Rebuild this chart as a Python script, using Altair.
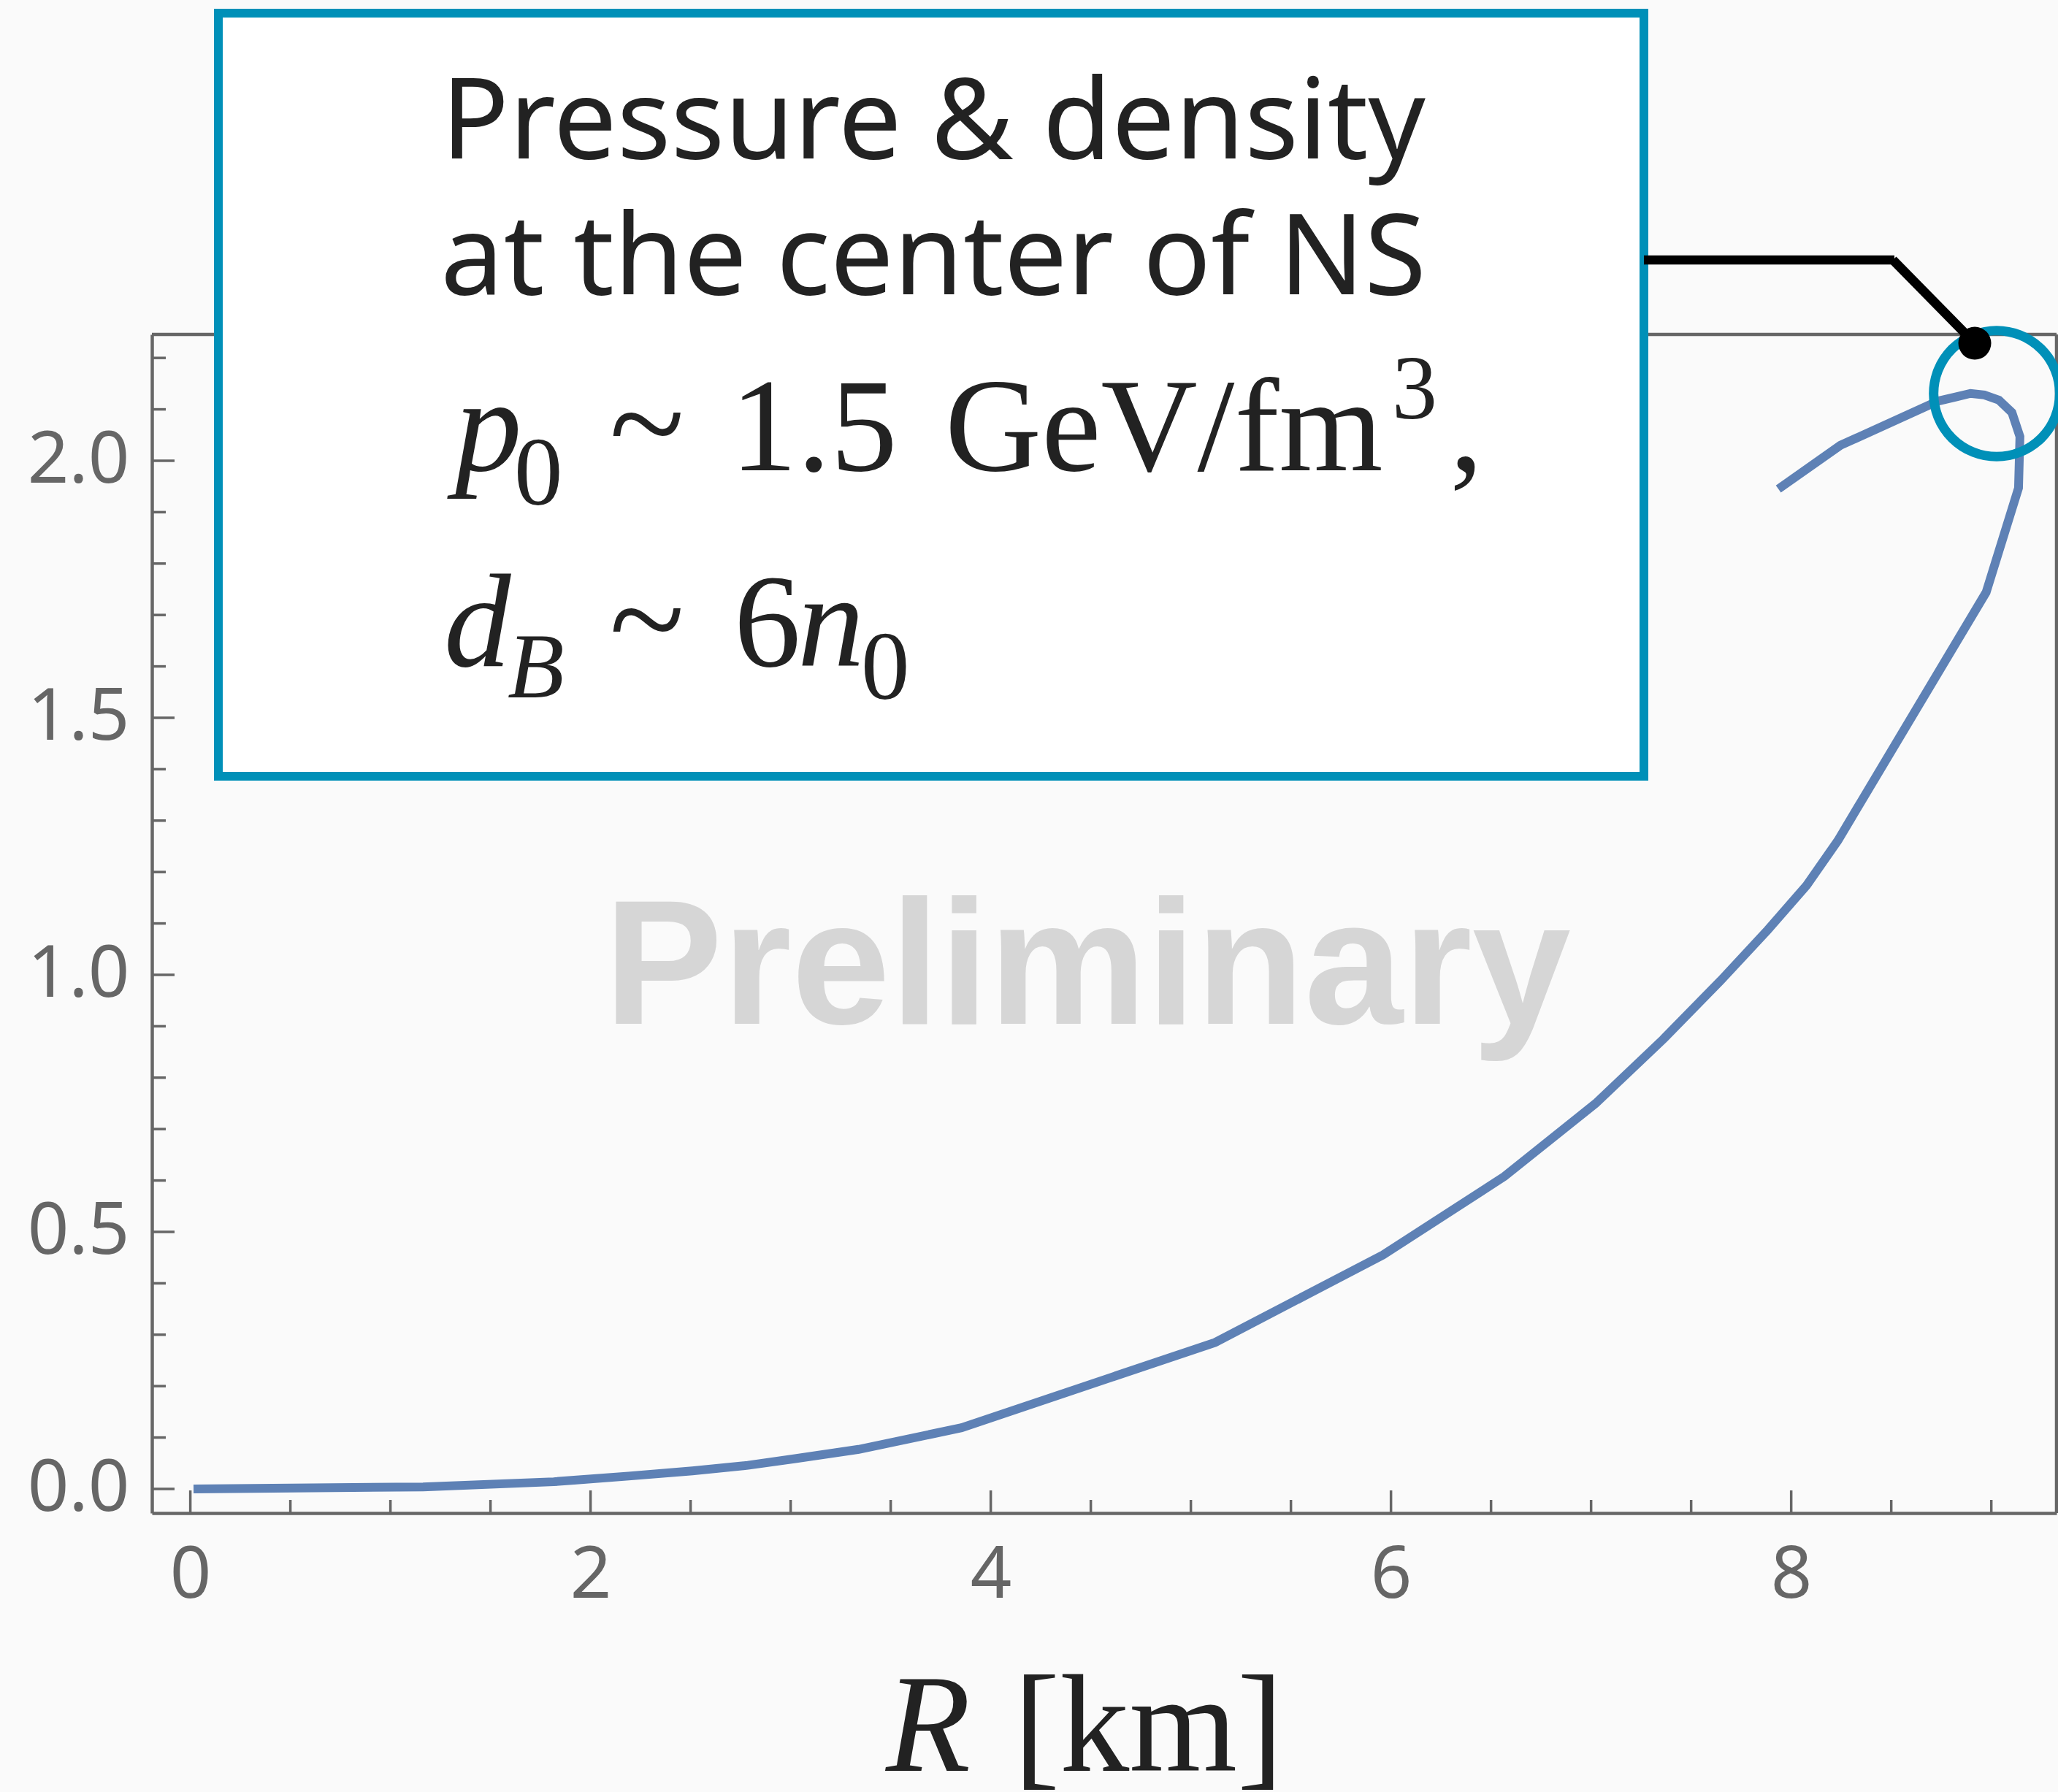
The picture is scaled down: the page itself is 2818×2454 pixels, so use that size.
import altair as alt
import pandas as pd

# ---- data ----
R_km = [0.016, 1.163, 1.816, 2.19, 2.509, 2.786, 3.023, 3.34, 3.854, 5.121, 5.960,
        6.567, 7.023, 7.361, 7.648, 7.882, 8.077, 8.233, 8.974, 9.136, 9.143, 9.103,
        9.038, 8.965, 8.896, 8.822, 8.733, 8.246, 7.936]
P_val = [0.0, 0.004, 0.014, 0.025, 0.035, 0.046, 0.059, 0.077, 0.119, 0.285, 0.455,
         0.608, 0.750, 0.875, 0.989, 1.087, 1.174, 1.261, 1.744, 1.947, 2.047, 2.094,
         2.118, 2.128, 2.131, 2.124, 2.116, 2.030, 1.945]
x_major = [0, 2, 4, 6, 8]
x_minor = [0.5, 1, 1.5, 2.5, 3, 3.5, 4.5, 5, 5.5, 6.5, 7, 7.5, 8.5, 9]
y_major = [0.0, 0.5, 1.0, 1.5, 2.0]
y_minor = [0.1, 0.2, 0.3, 0.4, 0.6, 0.7, 0.8, 0.9, 1.1, 1.2, 1.3, 1.4, 1.6, 1.7, 1.8,
           1.9, 2.1, 2.2]

W, H = 2608, 1614
GRAY = "#666666"
TEAL = "#0090B8"
INK = "#222222"

xscale = alt.Scale(domain=[-0.192, 9.326], nice=False, zero=False)
yscale = alt.Scale(domain=[-0.0469, 2.2457], nice=False, zero=False)

xaxis = alt.Axis(values=x_major, format="d", ticks=False, tickSize=0, grid=False,
                 domain=True, domainColor=GRAY, domainWidth=4.5, labelColor=GRAY,
                 labelFont="Noto Sans", labelFontSize=99, labelPadding=37,
                 labelFlush=False, labelOverlap=False, title=None)
yaxis = alt.Axis(values=y_major, format=".1f", ticks=False, tickSize=0, grid=False,
                 domain=True, domainColor=GRAY, domainWidth=4.5, labelColor=GRAY,
                 labelFont="Noto Sans", labelFontSize=99, labelPadding=31,
                 labelFlush=False, labelOverlap=False, title=None)

df = pd.DataFrame({"R": R_km, "P": P_val, "i": list(range(len(R_km)))})
one = pd.DataFrame({"a": [0]})

curve = alt.Chart(df).mark_line(color="#5E81B5", strokeWidth=12).encode(
    x=alt.X("R:Q", scale=xscale, axis=xaxis),
    y=alt.Y("P:Q", scale=yscale, axis=yaxis),
    order="i:Q",
)

def xticks(vals, length):
    return alt.Chart(pd.DataFrame({"R": vals})).mark_rule(color=GRAY, strokeWidth=3.5).encode(
        x=alt.X("R:Q", scale=xscale, axis=xaxis), y=alt.value(H), y2=alt.value(H - length))

def yticks(vals, length):
    return alt.Chart(pd.DataFrame({"P": vals})).mark_rule(color=GRAY, strokeWidth=3.5).encode(
        y=alt.Y("P:Q", scale=yscale, axis=yaxis), x=alt.value(0), x2=alt.value(length))

frame_top = alt.Chart(one).mark_rule(color=GRAY, strokeWidth=4.5).encode(
    x=alt.value(0), x2=alt.value(W), y=alt.value(0))
frame_right = alt.Chart(one).mark_rule(color=GRAY, strokeWidth=4.5).encode(
    x=alt.value(W), y=alt.value(0), y2=alt.value(H))

def txt(s, x, y, size, font="Liberation Serif", style="normal", align="left",
        color=INK, weight="normal"):
    return alt.Chart(one).mark_text(text=s, font=font, fontSize=size, fontStyle=style,
                                    fontWeight=weight, align=align, baseline="alphabetic",
                                    color=color).encode(x=alt.value(x), y=alt.value(y))

watermark = txt("Preliminary", 1281, 944, 243, font="Liberation Sans", align="center",
                color="#D6D6D6", weight="bold")

box = alt.Chart(one).mark_rect(fill="white", stroke=TEAL, strokeWidth=12).encode(
    x=alt.value(91), x2=alt.value(2043), y=alt.value(-440), y2=alt.value(605))

box_text = [
    txt("Pressure & density", 1070, -241, 154, font="Noto Sans", align="center"),
    txt("at the center of NS", 1070, -55, 154, font="Noto Sans", align="center"),
    txt("p", 415, 186, 183, style="italic"),
    txt("0", 496, 233, 133),
    txt("~", 678, 186, 190, align="center"),
    txt("1.5", 792, 186, 183),
    txt("GeV/fm", 1086, 186, 183),
    txt("3", 1698, 115, 124),
    txt(",", 1777, 186, 183),
    txt("d", 400, 454, 183, style="italic"),
    txt("B", 487, 497, 127, style="italic"),
    txt("~", 678, 454, 190, align="center"),
    txt("6", 797, 454, 183),
    txt("n", 884, 454, 183, style="italic"),
    txt("0", 971, 499, 133),
]

leader_h = alt.Chart(one).mark_rule(color="black", strokeWidth=12.7).encode(
    x=alt.value(2043), x2=alt.value(2386), y=alt.value(-102))
leader_d = alt.Chart(one).mark_rule(color="black", strokeWidth=12.7).encode(
    x=alt.value(2384), x2=alt.value(2496), y=alt.value(-102), y2=alt.value(12))
circle = alt.Chart(one).mark_point(shape="circle", filled=False, size=29800, stroke=TEAL,
                                   strokeWidth=13, opacity=1).encode(
    x=alt.value(2526), y=alt.value(81))
dot = alt.Chart(one).mark_point(shape="circle", filled=True, size=2025, color="black",
                                opacity=1).encode(x=alt.value(2496), y=alt.value(12))

xtitle = [
    txt("R", 1005, 1967, 190, style="italic"),
    txt("[km]", 1180, 1967, 190),
]

chart = alt.layer(
    curve, watermark, frame_top, frame_right,
    xticks(x_major, 31), xticks(x_minor, 18), yticks(y_major, 31), yticks(y_minor, 19),
    box, *box_text, leader_h, leader_d, circle, dot, *xtitle,
).properties(
    width=W, height=H,
    padding={"left": 208, "top": 458, "right": 2, "bottom": 382},
    autosize=alt.AutoSizeParams(type="none"),
    background="#FAFAFA",
).configure_view(strokeWidth=0)

chart.save("out.html", embed_options={"renderer": "svg", "actions": False})
